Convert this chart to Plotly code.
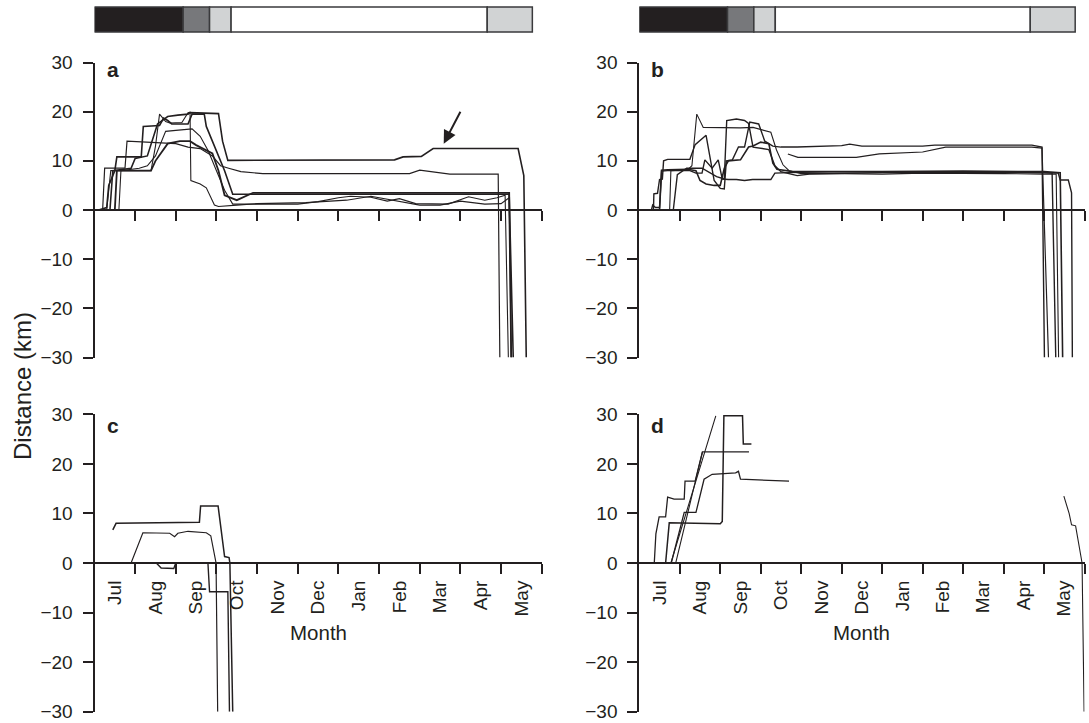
import plotly.graph_objects as go

INK = "#231f20"
FONT = "Liberation Sans, Arial, sans-serif"

# ---------------- categories / ticks ----------------
months = ["Jul", "Aug", "Sep", "Oct", "Nov", "Dec", "Jan", "Feb", "Mar", "Apr", "May"]
month_centers = [i + 0.5 for i in range(len(months))]
month_bounds = list(range(1, 12))
distance_ticks = [30, 20, 10, 0, -10, -20, -30]

# seasonal bar on top (month units from 1 Jul)
season_edges = [0.0, 2.18, 2.83, 3.36, 9.66, 10.77]
season_colors = ["#231f20", "#77787b", "#d1d3d4", "#ffffff", "#d1d3d4"]

# ---------------- panel a ----------------
a1_x = [0.30, 0.38, 0.45, 0.90, 1.00, 1.30, 1.55, 1.70, 1.80, 2.05, 2.30, 2.35, 3.05, 3.15, 3.28, 7.38, 7.59, 8.04, 8.33, 10.42, 10.56, 10.62]
a1_y = [0, 0, 8, 8.5, 10.5, 11, 17.5, 18.5, 19, 19.3, 19.5, 19.8, 19.6, 14, 10.1, 10.2, 10.8, 10.9, 12.5, 12.5, 7, -30]
a2_x = [0.15, 0.20, 0.25, 0.75, 0.80, 2.00, 2.30, 2.60, 2.90, 3.10, 3.30, 3.60, 4.14, 7.75, 8.00, 8.74, 9.93, 9.97]
a2_y = [0, 0, 8.5, 8.5, 14, 13.5, 12.8, 12.5, 11, 9, 8.5, 7.8, 7.4, 7.4, 8.1, 7.3, 7.3, -30]
a3_x = [0.50, 0.55, 1.00, 1.39, 1.50, 1.80, 2.10, 2.35, 2.50, 2.90, 3.05, 3.20, 3.50, 3.90, 10.20, 10.25]
a3_y = [0, 8, 8, 8, 10, 13.5, 14, 14, 13.2, 11.5, 8, 3, 2, 3.5, 3.5, -30]
a4_x = [0.10, 0.30, 0.35, 0.50, 0.55, 1.15, 1.20, 1.60, 1.70, 1.80, 1.90, 2.30, 2.40, 2.70, 2.75, 2.95, 3.20, 3.40, 10.20, 10.30]
a4_y = [0, 0.5, 5, 8, 10.8, 10.8, 17, 17.2, 18.7, 18.2, 17.5, 17.5, 19.5, 19.5, 17, 13, 8, 3.2, 3.2, -30]
a5_x = [0.00, 0.30, 0.40, 0.80, 1.20, 1.39, 1.50, 1.60, 1.75, 1.85, 2.15, 2.30, 2.35, 2.37, 2.60, 2.75, 2.95, 3.05, 3.50, 4.00, 5.20, 6.20, 6.80, 7.20, 7.50, 8.00, 8.50, 9.00, 9.60, 10.00, 10.20, 10.25]
a5_y = [0, 0, 8, 8, 8, 8, 13, 19.5, 18, 17.7, 17.8, 19.8, 19.9, 6, 5.3, 4.5, 1, 0.7, 1, 1.3, 1.5, 2.0, 2.8, 2.2, 1.6, 1.0, 1.0, 1.8, 1.2, 1.3, 2.5, -30]
a6_x = [0.60, 0.65, 1.10, 1.30, 1.50, 1.60, 1.75, 2.00, 2.40, 2.60, 2.80, 3.00, 3.20, 3.40, 3.80, 5.00, 5.50, 6.00, 6.30, 6.80, 7.20, 7.50, 7.90, 8.70, 9.20, 9.60, 9.90, 10.10, 10.18]
a6_y = [0, 8, 8.5, 9, 11, 13, 16, 16.2, 16.5, 15, 12, 8, 4, 1.2, 1.2, 1.2, 1.7, 2.5, 2.8, 2.6, 1.8, 2.3, 1.3, 1.2, 2.7, 2.0, 2.5, 3.0, -30]

# ---------------- panel b ----------------
b1_x = [0.30, 0.35, 0.36, 0.45, 0.50, 0.57, 0.60, 0.70, 1.25, 1.38, 1.65, 1.85, 2.00, 2.10, 2.15, 2.30, 2.45, 2.60, 2.73, 2.95, 3.10, 3.30, 3.50, 3.90, 5.00, 5.20, 5.50, 7.00, 7.30, 9.70, 9.95, 10.01]
b1_y = [0, 0, 3.3, 3.4, 6.2, 6.3, 10, 10.3, 10.3, 13.3, 15.2, 6, 4.4, 4.3, 10, 10.2, 12.8, 12.8, 17.9, 17.5, 14, 13, 12.8, 12.8, 13.1, 13.4, 13.0, 13.0, 13.2, 13.2, 12.8, -30]
b2_x = [0.25, 0.30, 0.33, 0.40, 0.50, 0.55, 0.70, 1.25, 1.40, 1.55, 1.62, 1.80, 1.95, 2.05, 2.20, 2.40, 2.60, 2.80, 3.25, 3.35, 3.70, 5.00, 7.00, 8.00, 9.00, 10.00, 10.35, 10.40, 10.60, 10.68, 10.70]
b2_y = [0, 0, 1, 0.5, 0.5, 7.9, 8, 8.0, 7.5, 7.5, 10.2, 8.5, 10.2, 6.3, 6.2, 6.2, 6.0, 6.2, 6.2, 7.5, 7.6, 7.8, 7.6, 7.5, 7.8, 7.6, 7.5, 6.1, 6.1, 3.5, -30]
b3_x = [0.20, 0.70, 0.75, 0.78, 1.20, 1.30, 1.42, 1.58, 2.20, 2.50, 2.81, 3.06, 3.25, 3.39, 3.55, 3.70, 4.00, 5.00, 6.00, 7.00, 8.00, 9.00, 10.00, 10.30, 10.36]
b3_y = [0, 0, 0, 8, 8.2, 9, 19.5, 16.8, 16.7, 16.7, 16.8, 16.2, 15.8, 12.2, 9.2, 8.0, 7.4, 7.4, 7.3, 7.5, 7.5, 7.4, 7.3, 7.3, -30]
b4_x = [0.60, 0.84, 0.94, 1.17, 1.55, 1.91, 2.10, 2.16, 2.40, 2.60, 2.70, 2.81, 3.20, 3.35, 3.50, 3.90, 4.20, 6.00, 8.00, 9.50, 10.00, 10.20, 10.29]
b4_y = [0, 0, 7.2, 8.5, 8.5, 6.8, 6.3, 18.2, 18.5, 18.2, 17.6, 12.8, 12.3, 9, 7.8, 7.0, 7.3, 7.6, 7.6, 7.7, 7.6, 7.5, -30]
b5_x = [3.67, 3.92, 5.36, 5.93, 7.00, 7.57, 9.70, 9.95, 10.11]
b5_y = [11.4, 10.7, 10.7, 11.4, 11.8, 12.8, 12.8, 12.6, -30]
b6_x = [0.45, 0.50, 0.55, 0.70, 1.20, 1.40, 1.50, 1.65, 1.85, 2.00, 2.10, 2.20, 2.50, 2.70, 2.81, 3.00, 3.20, 3.30, 3.40, 3.80, 6.00, 8.00, 10.00, 10.40, 10.46]
b6_y = [0, 0, 8.1, 8.2, 8.3, 8, 6, 5.3, 5.0, 5.0, 8.5, 10, 10.2, 12.8, 13, 13.8, 13.5, 9.5, 8.3, 7.8, 7.8, 7.9, 7.8, 7.6, -30]

# ---------------- panel c ----------------
c1_x = [0.45, 0.53, 2.58, 2.61, 3.04, 3.20, 3.31, 3.33, 3.40]
c1_y = [6.7, 8.0, 8.2, 11.5, 11.5, 1.3, 1.1, 0, -30]
c2_x = [0.29, 0.90, 1.19, 1.85, 1.97, 2.05, 2.30, 2.75, 2.86, 2.99, 3.03]
c2_y = [0, 0, 6.1, 6.0, 5.3, 6.0, 6.4, 6.1, 5.5, 0, -30]
c3_x = [0.29, 1.52, 1.64, 1.95, 2.00, 2.79, 2.83, 3.24, 3.28, 3.32]
c3_y = [0, 0, -1.0, -1.1, 0, 0, -5.8, -5.8, -5.8, -30]

# ---------------- panel d ----------------
d1_x = [0.28, 0.37, 0.41, 0.49, 0.65, 0.70, 0.86, 1.11, 1.13, 1.38, 1.56, 2.71]
d1_y = [0, 0, 5.9, 9.3, 9.3, 13.3, 12.9, 12.9, 16.5, 16.5, 22.4, 22.4]
d2_x = [0.60, 0.65, 0.74, 1.48, 2.00, 2.05, 2.09, 2.55, 2.57, 2.77]
d2_y = [0, 0, 8.1, 8.0, 7.9, 8.4, 29.7, 29.7, 24, 24]
d3_x = [0.75, 0.79, 1.11, 1.40, 1.60, 1.80, 2.38, 2.45, 2.50, 2.96, 3.70]
d3_y = [0, 0, 10.2, 10.2, 16.9, 17.9, 18.2, 18.5, 16.9, 16.7, 16.5]
d4_x = [0.72, 0.78, 1.89]
d4_y = [0, 0, 29.7]
d5_x = [0.80, 0.90, 1.56]
d5_y = [0, 0, 22.4]
d6_x = [10.49, 10.62, 10.68, 10.78, 10.94, 10.99]
d6_y = [13.5, 10, 7.7, 7.5, 0, -30]

# arrow in panel a (tail -> head)
arrow_tail = (9.02, 20.3)
arrow_head = (8.59, 13.5)

# ---------------- layout geometry ----------------
W, H = 1089, 723
XD_LEFT = [94.5 / W, 541.7 / W]
XD_RIGHT = [639.3 / W, 1084.5 / W]
YD_TOP = [(H - 357.5) / H, (H - 62.5) / H]
YD_BOT = [(H - 711.7) / H, (H - 414.3) / H]

fig = go.Figure()

panels = {
    "a": ("x", "y", [(a1_x, a1_y, 1.6), (a2_x, a2_y, 1.2), (a3_x, a3_y, 1.8), (a4_x, a4_y, 1.6), (a5_x, a5_y, 1.1), (a6_x, a6_y, 1.1)]),
    "b": ("x2", "y2", [(b1_x, b1_y, 1.4), (b2_x, b2_y, 1.4), (b3_x, b3_y, 1.1), (b4_x, b4_y, 1.4), (b5_x, b5_y, 1.2), (b6_x, b6_y, 1.6)]),
    "c": ("x3", "y3", [(c1_x, c1_y, 1.5), (c2_x, c2_y, 1.2), (c3_x, c3_y, 1.4)]),
    "d": ("x4", "y4", [(d1_x, d1_y, 1.3), (d2_x, d2_y, 1.5), (d3_x, d3_y, 1.3), (d4_x, d4_y, 1.1), (d5_x, d5_y, 1.1), (d6_x, d6_y, 1.1)]),
}
for key, (xa, ya, tracks) in panels.items():
    for xs, ys, w in tracks:
        fig.add_trace(go.Scatter(x=xs, y=ys, mode="lines", xaxis=xa, yaxis=ya,
                                 line=dict(color=INK, width=w), showlegend=False,
                                 hoverinfo="skip"))


def xaxis_cfg(domain, ydom, labels):
    return dict(
        domain=domain, range=[0, 11], anchor="free", position=(ydom[0] + ydom[1]) / 2,
        showline=True, linecolor=INK, linewidth=2, showgrid=False, zeroline=False,
        tickmode="array", tickvals=month_centers, ticktext=months, ticks="",
        showticklabels=labels, tickangle=-90, ticklabelstandoff=9,
        tickfont=dict(family=FONT, size=19, color=INK),
        minor=dict(tickmode="array", tickvals=month_bounds, ticks="outside", ticklen=10,
                   tickwidth=2, tickcolor=INK, showgrid=False),
        fixedrange=True, automargin=False,
    )


def yaxis_cfg(domain, anchor):
    return dict(
        domain=domain, range=[-30, 30], anchor=anchor,
        showline=True, linecolor=INK, linewidth=2, showgrid=False, zeroline=False,
        tickmode="array", tickvals=distance_ticks, ticks="outside", ticklen=10,
        tickwidth=2, tickcolor=INK, ticklabelstandoff=6,
        tickfont=dict(family=FONT, size=19, color=INK),
        fixedrange=True, automargin=False,
    )


fig.update_layout(
    width=W, height=H, margin=dict(l=0, r=0, t=0, b=0),
    paper_bgcolor="white", plot_bgcolor="rgba(0,0,0,0)",
    template="none", font=dict(family=FONT, color=INK),
    xaxis=xaxis_cfg(XD_LEFT, YD_TOP, False),
    yaxis=yaxis_cfg(YD_TOP, "x"),
    xaxis2=xaxis_cfg(XD_RIGHT, YD_TOP, False),
    yaxis2=yaxis_cfg(YD_TOP, "x2"),
    xaxis3=xaxis_cfg(XD_LEFT, YD_BOT, True),
    yaxis3=yaxis_cfg(YD_BOT, "x3"),
    xaxis4=xaxis_cfg(XD_RIGHT, YD_BOT, True),
    yaxis4=yaxis_cfg(YD_BOT, "x4"),
)

# seasonal bars
bar_y0, bar_y1 = (H - 32) / H, (H - 7) / H
for xref in ("x", "x2"):
    for i, col in enumerate(season_colors):
        fig.add_shape(type="rect", xref=xref, yref="paper",
                      x0=season_edges[i], x1=season_edges[i + 1], y0=bar_y0, y1=bar_y1,
                      fillcolor=col, line=dict(color="#3a3a3c", width=1.5), layer="above")

# panel letters
letters = [("a", 105 / W, (H - 70) / H), ("b", 649 / W, (H - 70) / H),
           ("c", 105 / W, (H - 425) / H), ("d", 649 / W, (H - 425) / H)]
for txt, x, y in letters:
    fig.add_annotation(text=f"<b>{txt}</b>", x=x, y=y, xref="paper", yref="paper",
                       xanchor="left", yanchor="middle", showarrow=False,
                       font=dict(family=FONT, size=21, color=INK))

# axis titles
for cx in ((XD_LEFT[0] + XD_LEFT[1]) / 2, (XD_RIGHT[0] + XD_RIGHT[1]) / 2):
    fig.add_annotation(text="Month", x=cx, y=(H - 632) / H, xref="paper", yref="paper",
                       xanchor="center", yanchor="middle", showarrow=False,
                       font=dict(family=FONT, size=20.5, color=INK))
fig.add_annotation(text="Distance (km)", x=22 / W, y=(H - 386) / H, xref="paper", yref="paper",
                   xanchor="center", yanchor="middle", textangle=-90, showarrow=False,
                   font=dict(family=FONT, size=24, color=INK))

# arrow in panel a
fig.add_annotation(x=arrow_head[0], y=arrow_head[1], ax=arrow_tail[0], ay=arrow_tail[1],
                   xref="x", yref="y", axref="x", ayref="y", text="", showarrow=True,
                   arrowhead=2, arrowsize=1.3, arrowwidth=2, arrowcolor=INK)

fig.write_html("out.html", config={"displayModeBar": False, "staticPlot": True},
               post_script="document.body.style.margin='0px';document.body.style.padding='0px';")
